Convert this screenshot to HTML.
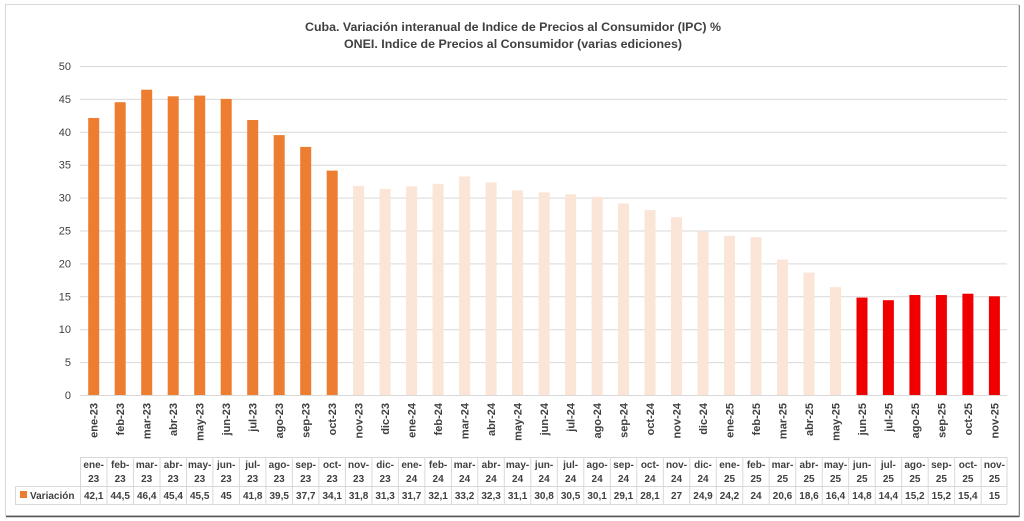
<!DOCTYPE html>
<html><head><meta charset="utf-8"><style>
body{margin:0;background:#fff;}
svg{display:block;font-family:"Liberation Sans",sans-serif;}
</style></head><body>
<svg id="s" width="1024" height="521" xmlns="http://www.w3.org/2000/svg">
<rect x="5.5" y="4.5" width="1013" height="511" fill="#fff" stroke="#d9d9d9"/>
<line x1="6" y1="516.5" x2="1019" y2="516.5" stroke="#555" stroke-width="1.5"/>
<line x1="1019.5" y1="5" x2="1019.5" y2="517" stroke="#888" stroke-width="1"/>
<text x="513" y="31" text-anchor="middle" font-size="11.5" font-weight="bold" fill="#404040" textLength="416" lengthAdjust="spacingAndGlyphs">Cuba. Variación interanual de Indice de Precios al Consumidor (IPC) %</text>
<text x="513" y="48" text-anchor="middle" font-size="11.5" font-weight="bold" fill="#404040" textLength="338" lengthAdjust="spacingAndGlyphs">ONEI. Indice de Precios al Consumidor (varias ediciones)</text>
<g id="g"></g>
</svg>
<script>
var labs=["ene-23","feb-23","mar-23","abr-23","may-23","jun-23","jul-23","ago-23","sep-23","oct-23","nov-23","dic-23","ene-24","feb-24","mar-24","abr-24","may-24","jun-24","jul-24","ago-24","sep-24","oct-24","nov-24","dic-24","ene-25","feb-25","mar-25","abr-25","may-25","jun-25","jul-25","ago-25","sep-25","oct-25","nov-25"];
var vals=["42,1","44,5","46,4","45,4","45,5","45","41,8","39,5","37,7","34,1","31,8","31,3","31,7","32,1","33,2","32,3","31,1","30,8","30,5","30,1","29,1","28,1","27","24,9","24,2","24","20,6","18,6","16,4","14,8","14,4","15,2","15,2","15,4","15"];
var h='',x0=80.5,w=26.49,Y=function(v){return 395-v*6.58;};
for(var t=0;t<=50;t+=5){var y=Y(t);h+='<line x1="80" x2="1007" y1="'+(y+0.5).toFixed(1)+'" y2="'+(y+0.5).toFixed(1)+'" stroke="#d9d9d9"/>';h+='<text x="71" y="'+(y+4).toFixed(1)+'" text-anchor="end" font-size="11" fill="#404040">'+t+'</text>';}
for(var i=0;i<35;i++){var v=parseFloat(vals[i].replace(',','.'));var c=x0+w*(i+0.5);var col=i<10?'#ED7D31':(i<29?'#FBE5D6':'#F00000');
h+='<rect x="'+(c-5.5).toFixed(1)+'" y="'+Y(v).toFixed(1)+'" width="11" height="'+(v*6.58).toFixed(1)+'" fill="'+col+'"/>';
h+='<text transform="translate('+(c+4).toFixed(1)+',403) rotate(-90)" text-anchor="end" font-size="11" font-weight="bold" fill="#404040">'+labs[i]+'</text>';
var p=labs[i].split('-');
h+='<text x="'+c.toFixed(1)+'" y="468" text-anchor="middle" font-size="10" font-weight="bold" fill="#404040">'+p[0]+'-</text>';
h+='<text x="'+c.toFixed(1)+'" y="482" text-anchor="middle" font-size="10" font-weight="bold" fill="#404040">'+p[1]+'</text>';
h+='<text x="'+c.toFixed(1)+'" y="499" text-anchor="middle" font-size="10" font-weight="bold" fill="#404040">'+vals[i]+'</text>';
var xl=(x0+w*i).toFixed(1);h+='<line x1="'+xl+'" x2="'+xl+'" y1="457" y2="504" stroke="#d9d9d9"/>';}
h+='<line x1="1007" x2="1007" y1="457" y2="504" stroke="#d9d9d9"/>';
h+='<line x1="80" x2="1007" y1="457.5" y2="457.5" stroke="#d9d9d9"/>';
h+='<line x1="15" x2="1007" y1="486.5" y2="486.5" stroke="#d9d9d9"/>';
h+='<line x1="15" x2="1007" y1="504.5" y2="504.5" stroke="#d9d9d9"/>';
h+='<line x1="15.5" x2="15.5" y1="486" y2="504" stroke="#d9d9d9"/>';
h+='<rect x="20" y="491" width="7" height="7" fill="#ED7D31"/>';
h+='<text x="30" y="499" font-size="10" font-weight="bold" fill="#404040">Variación</text>';
document.getElementById('g').innerHTML=h;
</script>
</body></html>
